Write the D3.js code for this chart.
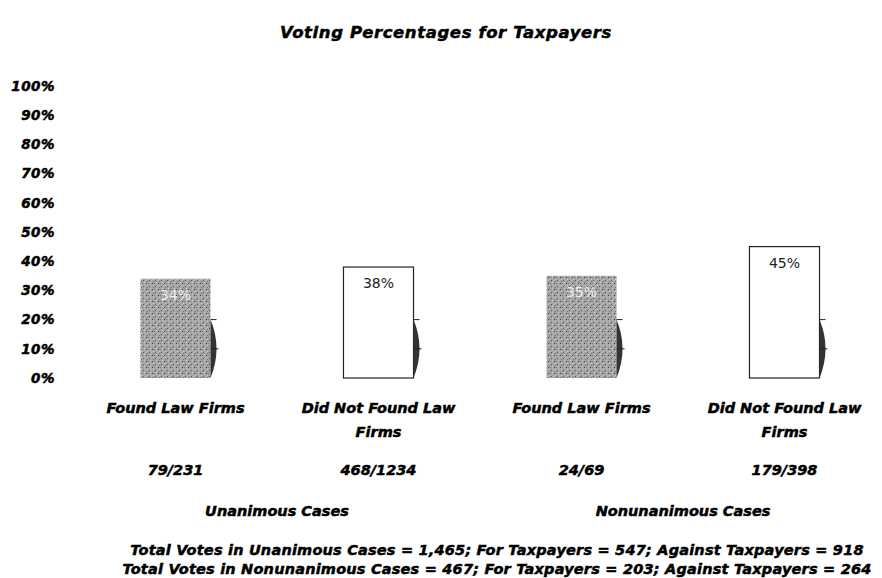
<!DOCTYPE html>
<html>
<head>
<meta charset="utf-8">
<script src="https://cdn.jsdelivr.net/npm/d3@7"></script>
<style>
  body { margin: 0; background: #fff; }
  text { font-family: "DejaVu Sans", sans-serif; }
  .heavy { font-weight: bold; font-style: italic; stroke: #000; stroke-width: 0.5; fill: #000; }
</style>
</head>
<body>
<svg id="chart"></svg>
<script>
// data
const categories = ["Found Law Firms", "Did Not Found Law Firms", "Found Law Firms", "Did Not Found Law Firms"];
const percents = [34, 38, 35, 45];
const ratios = ["79/231", "468/1234", "24/69", "179/398"];
const barStyle = ["gray", "white", "gray", "white"];
const groups = ["Unanimous Cases", "Nonunanimous Cases"];
const yTicks = [0, 10, 20, 30, 40, 50, 60, 70, 80, 90, 100];
const footer = [
  "Total Votes in Unanimous Cases = 1,465; For Taxpayers = 547; Against Taxpayers = 918",
  "Total Votes in Nonunanimous Cases = 467; For Taxpayers = 203; Against Taxpayers = 264"
];

const width = 882, height = 578;
const svg = d3.select("#chart").attr("width", width).attr("height", height);

// 灰色纹理
const defs = svg.append("defs");
const pat = defs.append("pattern")
  .attr("id", "stipple")
  .attr("width", 6).attr("height", 6)
  .attr("patternUnits", "userSpaceOnUse");
pat.append("rect").attr("width", 6).attr("height", 6).attr("fill", "#a4a4a4");
[[0, 0, "#d0d0d0"], [3, 3, "#d0d0d0"], [2, 1, "#404040"], [5, 4, "#555"], [1, 4, "#c0c0c0"], [4, 1, "#808080"], [0, 2, "#bbb"], [3, 5, "#777"]]
  .forEach(([x, y, c]) => pat.append("rect").attr("x", x).attr("y", y).attr("width", 1).attr("height", 1).attr("fill", c));

const keys = categories.map((d, i) => i);
const x = d3.scaleBand()
  .domain(keys)
  .range([74, 886])
  .paddingInner(0.655)
  .paddingOuter(0.3275);

const y = d3.scaleLinear().domain([0, 100]).range([378, 86]);

// title
svg.append("text")
  .attr("class", "heavy")
  .attr("x", 446).attr("y", 38)
  .attr("text-anchor", "middle")
  .attr("font-size", 16.5)
  .attr("letter-spacing", 0.6)
  .text("Voting Percentages for Taxpayers");

// y axis labels (no axis line)
const yAxis = d3.axisLeft(y)
  .tickValues(yTicks)
  .tickFormat(d => d + "%")
  .tickSize(0)
  .tickPadding(0);
const gy = svg.append("g").attr("transform", "translate(55,0)").call(yAxis);
gy.select(".domain").remove();
gy.selectAll("text")
  .attr("class", "heavy")
  .attr("font-size", 13.5)
  .attr("letter-spacing", 0.5);

// bars
const bars = svg.append("g");
bars.selectAll("rect")
  .data(percents)
  .join("rect")
  .attr("x", (d, i) => x(i))
  .attr("y", d => y(d))
  .attr("width", x.bandwidth())
  .attr("height", d => y(0) - y(d))
  .attr("fill", (d, i) => barStyle[i] === "gray" ? "url(#stipple)" : "#fff")
  .attr("stroke", (d, i) => barStyle[i] === "gray" ? "none" : "#222")
  .attr("stroke-width", 1.2);

// 右侧阴影
const shade = svg.append("g");
shade.selectAll("path")
  .data(percents)
  .join("path")
  .attr("d", (d, i) => {
    const x0 = x(i) + x.bandwidth();
    const top = y(20), bot = y(0);
    return `M${x0},${top} Q${x0 + 12},${(top + bot) / 2} ${x0},${bot} Z`;
  })
  .attr("fill", "#333");
shade.selectAll("line.t20")
  .data(percents)
  .join("line")
  .attr("class", "t20")
  .attr("x1", (d, i) => x(i) + x.bandwidth())
  .attr("x2", (d, i) => x(i) + x.bandwidth() + 6)
  .attr("y1", y(20)).attr("y2", y(20))
  .attr("stroke", "#222");
shade.selectAll("line.t10")
  .data(percents)
  .join("line")
  .attr("class", "t10")
  .attr("x1", (d, i) => x(i) + x.bandwidth())
  .attr("x2", (d, i) => x(i) + x.bandwidth() + 8)
  .attr("y1", y(10)).attr("y2", y(10))
  .attr("stroke", "#222");

// value labels
svg.append("g").selectAll("text")
  .data(percents)
  .join("text")
  .attr("x", (d, i) => x(i) + x.bandwidth() / 2)
  .attr("y", d => y(d) + 21)
  .attr("text-anchor", "middle")
  .attr("font-size", 14)
  .attr("fill", (d, i) => barStyle[i] === "gray" ? "#eee" : "#222")
  .text(d => d + "%");

// category labels with wrapping
function wrap(str, maxW, size) {
  const words = str.split(" ");
  const lines = [];
  let line = "";
  const probe = svg.append("text").attr("class", "heavy").attr("font-size", size);
  words.forEach(w => {
    const test = line ? line + " " + w : w;
    probe.text(test);
    if (probe.node().getComputedTextLength() > maxW && line) {
      lines.push(line);
      line = w;
    } else line = test;
  });
  lines.push(line);
  probe.remove();
  return lines;
}

const fs = 14.5;
const catG = svg.append("g");
categories.forEach((c, i) => {
  const t = catG.append("text")
    .attr("class", "heavy")
    .attr("x", x(i) + x.bandwidth() / 2)
    .attr("y", 413)
    .attr("text-anchor", "middle")
    .attr("font-size", fs);
  wrap(c, 180, fs).forEach((l, j) => {
    t.append("tspan")
      .attr("x", x(i) + x.bandwidth() / 2)
      .attr("dy", j === 0 ? 0 : 24)
      .text(l);
  });
});

// ratios
svg.append("g").selectAll("text")
  .data(ratios)
  .join("text")
  .attr("class", "heavy")
  .attr("x", (d, i) => x(i) + x.bandwidth() / 2)
  .attr("y", 475)
  .attr("text-anchor", "middle")
  .attr("font-size", fs)
  .text(d => d);

// group labels
svg.append("g").selectAll("text")
  .data(groups)
  .join("text")
  .attr("class", "heavy")
  .attr("x", (d, i) => (x(2 * i) + x(2 * i + 1) + x.bandwidth()) / 2)
  .attr("y", 516)
  .attr("text-anchor", "middle")
  .attr("font-size", fs)
  .text(d => d);

// footer
svg.append("g").selectAll("text")
  .data(footer)
  .join("text")
  .attr("class", "heavy")
  .attr("x", 497)
  .attr("y", (d, i) => 555 + i * 19)
  .attr("text-anchor", "middle")
  .attr("font-size", fs)
  .attr("letter-spacing", 0.2)
  .text(d => d);
</script>
</body>
</html>
